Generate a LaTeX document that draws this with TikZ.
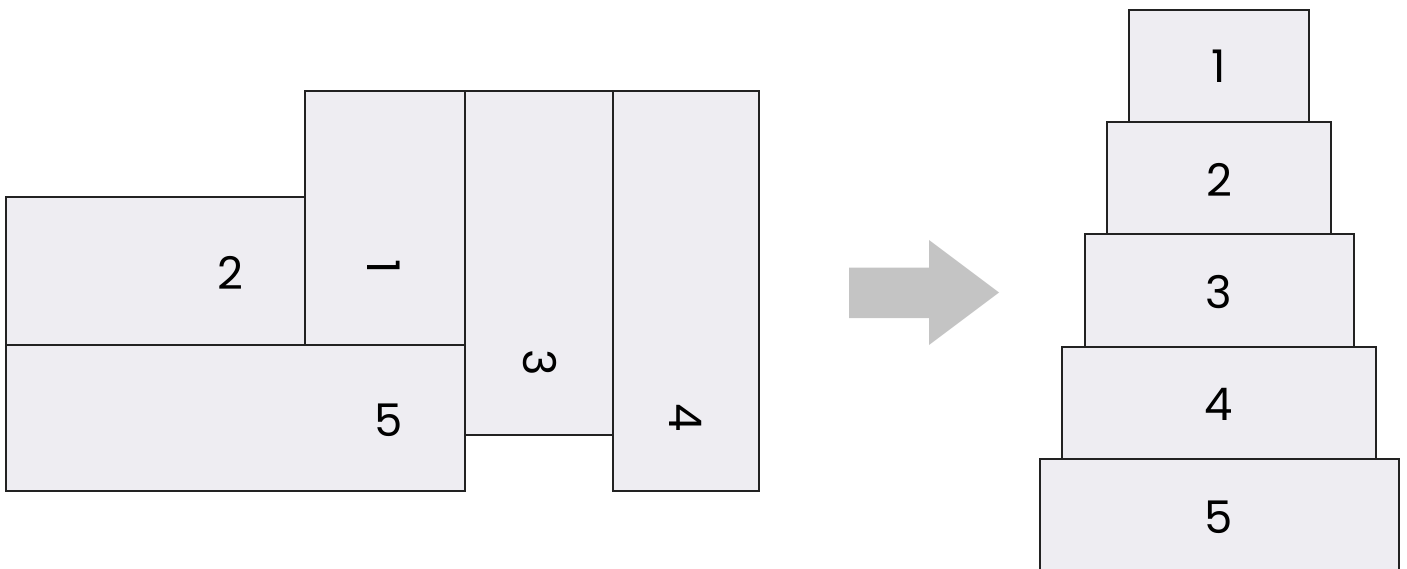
\documentclass[tikz,border=0pt]{standalone}
\usepackage{fontspec}
\setmainfont{Poppins}
\definecolor{boxfill}{HTML}{EEEDF2}
\definecolor{boxline}{HTML}{222222}
\definecolor{arrowfill}{HTML}{C4C4C4}
\begin{document}
\begin{tikzpicture}[x=1pt,y=-1pt,
  blk/.style={fill=boxfill,draw=boxline,line width=1.4pt},
  lbl/.style={font=\fontsize{45}{45}\selectfont,text=black,inner sep=0pt}]
\useasboundingbox (0,0) rectangle (1407,569);
\clip (0,0) rectangle (1407,569);
% left arrangement
\draw[blk] (6,197) rectangle (305,345);
\draw[blk] (305,91) rectangle (465,345);
\draw[blk] (6,345) rectangle (465,491);
\draw[blk] (465,91) rectangle (613,435);
\draw[blk] (613,91) rectangle (759,491);
\node[lbl] (l2) at (230,273) {2};
\node[lbl,rotate=-90] (l1) at (384,267) {1};
\node[lbl,rotate=-90] (l3) at (540,363) {3};
\node[lbl,rotate=-90] (l4) at (686,418) {4};
\node[lbl] (l5) at (389,420) {5};
% arrow
\fill[arrowfill] (849,267.5) -- (929,267.5) -- (929,240) -- (999,292.5)
  -- (929,345) -- (929,318) -- (849,318) -- cycle;
% right stack
\draw[blk] (1129,10) rectangle (1309,122);
\draw[blk] (1107,122) rectangle (1331,234);
\draw[blk] (1085,234) rectangle (1354,347);
\draw[blk] (1062,347) rectangle (1376,459);
\draw[blk] (1040,459) rectangle (1399,590);
\node[lbl] (r1) at (1219,66) {1};
\node[lbl] (r2) at (1219,180) {2};
\node[lbl] (r3) at (1219,292) {3};
\node[lbl] (r4) at (1219,404) {4};
\node[lbl] (r5) at (1219,517) {5};
\end{tikzpicture}
\end{document}
